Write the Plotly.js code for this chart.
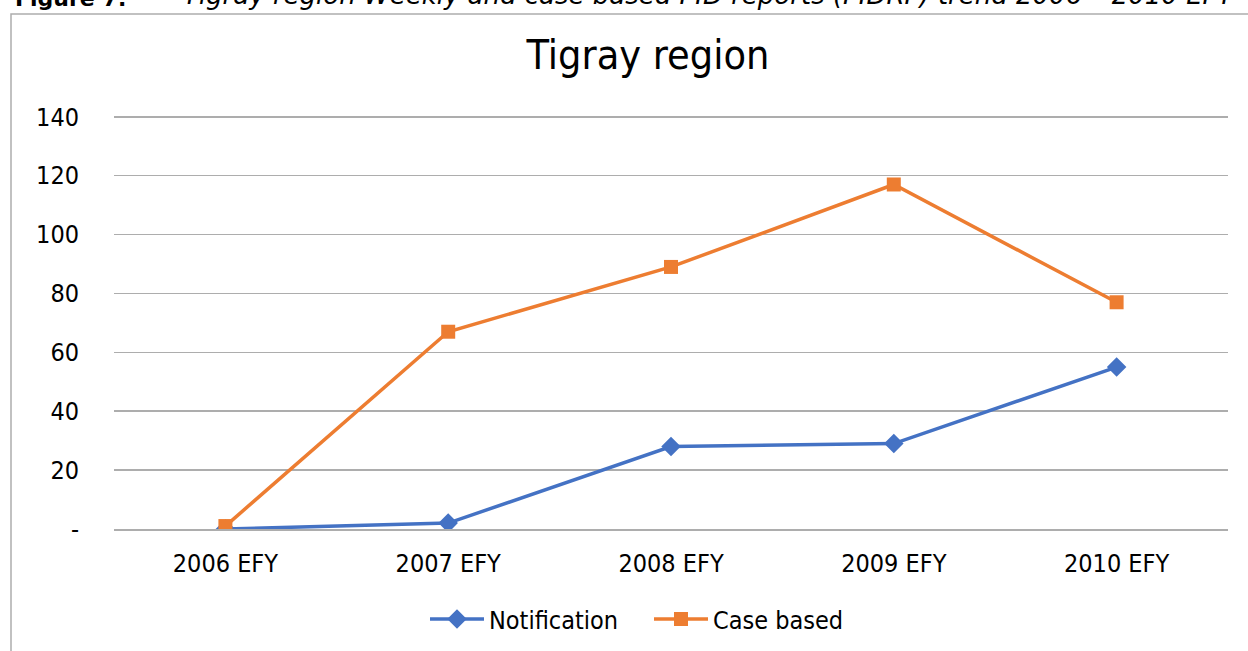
<!DOCTYPE html>
<html>
<head>
<meta charset="utf-8">
<script src="https://cdn.plot.ly/plotly-3.0.1.min.js"></script>
<style>
  html, body { margin: 0; padding: 0; background: #ffffff; overflow: hidden; }
  #chart { width: 1248px; height: 651px; }
</style>
</head>
<body>
<div id="chart"></div>
<script>
const categories = ["2006 EFY", "2007 EFY", "2008 EFY", "2009 EFY", "2010 EFY"];
const notification = [0, 2, 28, 29, 55];
const caseBased = [1, 67, 89, 117, 77];
const yTickVals = [0, 20, 40, 60, 80, 100, 120, 140];
const yTickText = ["-", "20", "40", "60", "80", "100", "120", "140"];

const W = 1248, H = 651;
const YTOP = 140.6;
const M = { l: 114, r: 20, t: 115, b: 122.3, autoexpand: false };
const PW = W - M.l - M.r, PH = H - M.t - M.b;
const px = x => (x - M.l) / PW;
const py = y => 1 - (y - M.t) / PH;

const FONT = '"DejaVu Sans Condensed", "DejaVu Sans", sans-serif';

const traces = [
  {
    x: categories, y: notification, name: "Notification",
    type: "scatter", mode: "lines+markers",
    line: { color: "#4472C4", width: 3.5 },
    marker: { symbol: "diamond", size: 15, color: "#4472C4" }
  },
  {
    x: categories, y: caseBased, name: "Case based",
    type: "scatter", mode: "lines+markers",
    line: { color: "#ED7D31", width: 3.5 },
    marker: { symbol: "square", size: 14, color: "#ED7D31" }
  }
];

const layout = {
  width: W, height: H,
  margin: M,
  paper_bgcolor: "#ffffff", plot_bgcolor: "#ffffff",
  font: { family: FONT, size: 25, color: "#000000" },
  showlegend: true,
  title: {
    text: "Tigray region",
    font: { family: FONT, size: 41, color: "#000000" },
    x: 648 / W, xanchor: "center", xref: "container",
    y: 1 - 55 / H, yanchor: "middle", yref: "container"
  },
  xaxis: {
    type: "category", range: [-0.5, 4.5],
    showgrid: false, zeroline: false,
    showline: true, linecolor: "#ADADAD", linewidth: 1.5,
    ticks: "", ticklabelstandoff: 11,
    tickfont: { family: FONT, size: 25, color: "#000000" },
    fixedrange: true
  },
  yaxis: {
    range: [0, YTOP],
    tickvals: yTickVals, ticktext: yTickText,
    showgrid: true, gridcolor: "#ADADAD", gridwidth: 1.5,
    zeroline: false, showline: false,
    ticks: "", ticklabelstandoff: 34,
    tickfont: { family: FONT, size: 25, color: "#000000" },
    fixedrange: true
  },
  legend: {
    orientation: "h",
    x: px(425), xanchor: "left",
    y: py(619), yanchor: "middle",
    font: { family: FONT, size: 25, color: "#000000" },
    itemwidth: 54,
    entrywidth: 155,
    traceorder: "normal",
    bgcolor: "rgba(0,0,0,0)"
  },
  shapes: [
    {
      type: "path", xref: "paper", yref: "paper",
      path: "M " + px(11) + "," + py(700) + " L " + px(11) + "," + py(14) + " L " + px(1300) + "," + py(14),
      line: { color: "#ADADAD", width: 1.5 },
      layer: "below"
    }
  ],
  annotations: [
    {
      text: "<b>Figure 7:</b>",
      xref: "paper", yref: "paper",
      x: px(13), xanchor: "left",
      y: py(13), yanchor: "bottom",
      showarrow: false,
      font: { family: '"DejaVu Sans", sans-serif', size: 22, color: "#000000" }
    },
    {
      text: "<i>Tigray region Weekly and case based PID reports (PIDRF) trend 2006 – 2010 EFY</i>",
      xref: "paper", yref: "paper",
      x: px(181), xanchor: "left",
      y: py(12), yanchor: "bottom",
      showarrow: false,
      font: { family: '"DejaVu Sans", sans-serif', size: 26, color: "#000000" }
    }
  ]
};

Plotly.newPlot("chart", traces, layout, { displayModeBar: false, staticPlot: true });
</script>
</body>
</html>
